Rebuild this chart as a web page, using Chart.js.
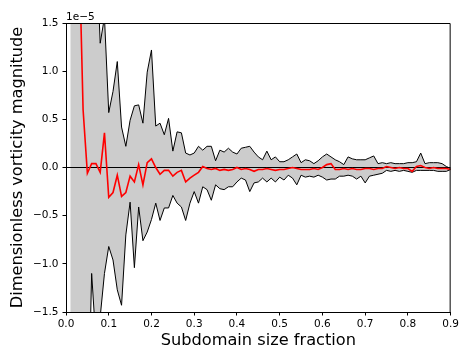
<!DOCTYPE html>
<html>
<head>
<meta charset="utf-8">
<script src="https://cdn.jsdelivr.net/npm/chart.js@4.4.0/dist/chart.umd.min.js"></script>
<style>
  html, body { margin: 0; padding: 0; background: #fff; }
  #wrap { width: 461px; height: 352px; position: relative; }
</style>
</head>
<body>
<div id="wrap"><canvas id="myChart"></canvas></div>
<script>
// values in units of 1e-5
var fraction = [0.01, 0.02, 0.03, 0.04, 0.05, 0.06, 0.07, 0.08, 0.09, 0.10,
    0.11, 0.12, 0.13, 0.14, 0.15, 0.16, 0.17, 0.18, 0.19, 0.20,
    0.21, 0.22, 0.23, 0.24, 0.25, 0.26, 0.27, 0.28, 0.29, 0.30,
    0.31, 0.32, 0.33, 0.34, 0.35, 0.36, 0.37, 0.38, 0.39, 0.40,
    0.41, 0.42, 0.43, 0.44, 0.45, 0.46, 0.47, 0.48, 0.49, 0.50,
    0.51, 0.52, 0.53, 0.54, 0.55, 0.56, 0.57, 0.58, 0.59, 0.60,
    0.61, 0.62, 0.63, 0.64, 0.65, 0.66, 0.67, 0.68, 0.69, 0.70,
    0.71, 0.72, 0.73, 0.74, 0.75, 0.76, 0.77, 0.78, 0.79, 0.80,
    0.81, 0.82, 0.83, 0.84, 0.85, 0.86, 0.87, 0.88, 0.89, 0.90];

var upper = [6.0, 5.0, 4.2, 3.6, 3.0, 2.6, 2.4, 1.29, 1.56, 0.57,
    0.79, 1.10, 0.42, 0.22, 0.49, 0.64, 0.65, 0.46, 0.99, 1.22,
    0.43, 0.46, 0.34, 0.51, 0.17, 0.37, 0.36, 0.15, 0.13, 0.15,
    0.22, 0.18, 0.22, 0.22, 0.07, 0.18, 0.16, 0.20, 0.16, 0.14,
    0.20, 0.21, 0.22, 0.16, 0.11, 0.08, 0.17, 0.08, 0.11, 0.06,
    0.06, 0.08, 0.11, 0.14, 0.05, 0.08, 0.07, 0.04, 0.07, 0.11,
    0.14, 0.11, 0.08, 0.06, 0.03, 0.11, 0.09, 0.08, 0.08, 0.08,
    0.10, 0.12, 0.04, 0.05, 0.04, 0.05, 0.04, 0.04, 0.04, 0.05,
    0.05, 0.06, 0.15, 0.04, 0.05, 0.05, 0.05, 0.04, 0.01, -0.01];

var lower = [-6.0, -5.0, -4.2, -3.6, -3.0, -1.10, -1.80, -1.55, -1.10, -0.82,
    -0.96, -1.27, -1.43, -0.70, -0.36, -1.04, -0.41, -0.76, -0.67, -0.54,
    -0.37, -0.55, -0.42, -0.42, -0.29, -0.37, -0.41, -0.55, -0.37, -0.25,
    -0.37, -0.20, -0.23, -0.34, -0.18, -0.22, -0.23, -0.20, -0.20, -0.15,
    -0.11, -0.13, -0.25, -0.16, -0.15, -0.11, -0.15, -0.11, -0.15, -0.10,
    -0.13, -0.08, -0.11, -0.18, -0.08, -0.10, -0.09, -0.10, -0.08, -0.10,
    -0.13, -0.12, -0.12, -0.09, -0.09, -0.08, -0.09, -0.12, -0.09, -0.16,
    -0.09, -0.08, -0.07, -0.06, -0.03, -0.04, -0.03, -0.04, -0.03, -0.04,
    -0.05, -0.03, -0.03, -0.03, -0.03, -0.03, -0.04, -0.04, -0.04, -0.02];

var mean = [6.0, 4.0, 2.4, 0.60, -0.06, 0.04, 0.04, -0.05, 0.36, -0.31,
    -0.26, -0.08, -0.30, -0.26, -0.09, -0.15, 0.03, -0.18, 0.05, 0.09,
    0.00, -0.07, -0.03, -0.03, -0.09, -0.05, -0.03, -0.15, -0.11, -0.08,
    -0.05, 0.01, -0.01, -0.02, -0.01, -0.03, -0.02, -0.03, -0.02, 0.00,
    -0.02, -0.01, -0.02, -0.04, -0.02, -0.02, -0.01, -0.02, -0.03, -0.02,
    -0.02, -0.01, 0.00, -0.01, -0.02, -0.02, -0.02, -0.01, -0.02, 0.00,
    0.03, 0.04, -0.02, -0.02, -0.01, -0.02, -0.01, -0.02, -0.02, -0.01,
    -0.01, -0.02, -0.01, -0.01, 0.01, 0.00, -0.01, 0.00, -0.01, -0.01,
    -0.04, 0.01, 0.02, 0.00, -0.01, 0.00, -0.01, -0.01, -0.01, -0.02];

var xMin = 0, xMax = 0.9;
var yMin = -1.5, yMax = 1.5;
var offsetLabel = '1e\u22125';

function toPoints(ys) {
    return fraction.map(function(f, i) { return { x: f, y: ys[i] }; });
}

function fmt(v) {
    return (v < 0 ? '\u2212' : '') + Math.abs(v).toFixed(1);
}

// draws top/right spines and the 1e-5 offset text
var framePlugin = {
    id: 'frame',
    afterDraw: function(chart) {
        var a = chart.chartArea;
        var c = chart.ctx;
        c.save();
        c.strokeStyle = '#000';
        c.lineWidth = 1;
        c.beginPath();
        c.moveTo(a.left, a.top + 0.5);
        c.lineTo(a.right - 0.5, a.top + 0.5);
        c.lineTo(a.right - 0.5, a.bottom);
        c.stroke();
        c.fillStyle = '#000';
        c.font = '10.5px "DejaVu Sans"';
        c.textAlign = 'left';
        c.textBaseline = 'alphabetic';
        c.fillText(offsetLabel, a.left, a.top - 3);
        c.restore();
    }
};

window.onload = function() {
    var ctx = document.getElementById('myChart').getContext('2d');

    new Chart(ctx, {
        type: 'line',
        data: {
            datasets: [
                {
                    label: 'mean',
                    data: toPoints(mean),
                    borderColor: '#ff0000',
                    borderWidth: 1.6,
                    fill: false,
                    pointRadius: 0
                },
                {
                    label: 'zero',
                    data: [{ x: xMin, y: 0 }, { x: xMax, y: 0 }],
                    borderColor: '#000',
                    borderWidth: 1,
                    fill: false,
                    pointRadius: 0
                },
                {
                    label: 'upper',
                    data: toPoints(upper),
                    borderColor: '#000',
                    borderWidth: 1,
                    backgroundColor: '#cccccc',
                    fill: '+1',
                    pointRadius: 0
                },
                {
                    label: 'lower',
                    data: toPoints(lower),
                    borderColor: '#000',
                    borderWidth: 1,
                    fill: false,
                    pointRadius: 0
                }
            ]
        },
        options: {
            responsive: true,
            maintainAspectRatio: false,
            animation: false,
            events: [],
            layout: { padding: { left: 0, right: 8, top: 23, bottom: 0 } },
            elements: { line: { tension: 0 } },
            scales: {
                x: {
                    type: 'linear',
                    min: xMin,
                    max: xMax,
                    afterFit: function(s) { s.height = 40; },
                    border: { color: '#000', width: 1 },
                    grid: { drawOnChartArea: false, drawTicks: true, tickLength: 3.5, tickColor: '#000' },
                    ticks: {
                        stepSize: 0.1,
                        color: '#000',
                        padding: 2,
                        maxRotation: 0,
                        font: { family: 'DejaVu Sans', size: 10.5 },
                        callback: function(v) { return fmt(v); }
                    },
                    title: {
                        display: true,
                        text: 'Subdomain size fraction',
                        color: '#000',
                        font: { family: 'DejaVu Sans', size: 16.2 },
                        padding: { top: 0, bottom: 1 }
                    }
                },
                y: {
                    min: yMin,
                    max: yMax,
                    afterFit: function(s) { s.width = 66; },
                    border: { color: '#000', width: 1 },
                    grid: { drawOnChartArea: false, drawTicks: true, tickLength: 3.5, tickColor: '#000' },
                    ticks: {
                        stepSize: 0.5,
                        color: '#000',
                        padding: 4,
                        font: { family: 'DejaVu Sans', size: 10.5 },
                        callback: function(v) { return fmt(v); }
                    },
                    title: {
                        display: true,
                        text: 'Dimensionless vorticity magnitude',
                        color: '#000',
                        font: { family: 'DejaVu Sans', size: 16.2 },
                        padding: { top: 8, bottom: 0 }
                    }
                }
            },
            plugins: {
                legend: { display: false },
                tooltip: { enabled: false },
                filler: { drawTime: 'beforeDatasetsDraw' }
            }
        },
        plugins: [framePlugin]
    });
};
</script>
</body>
</html>
